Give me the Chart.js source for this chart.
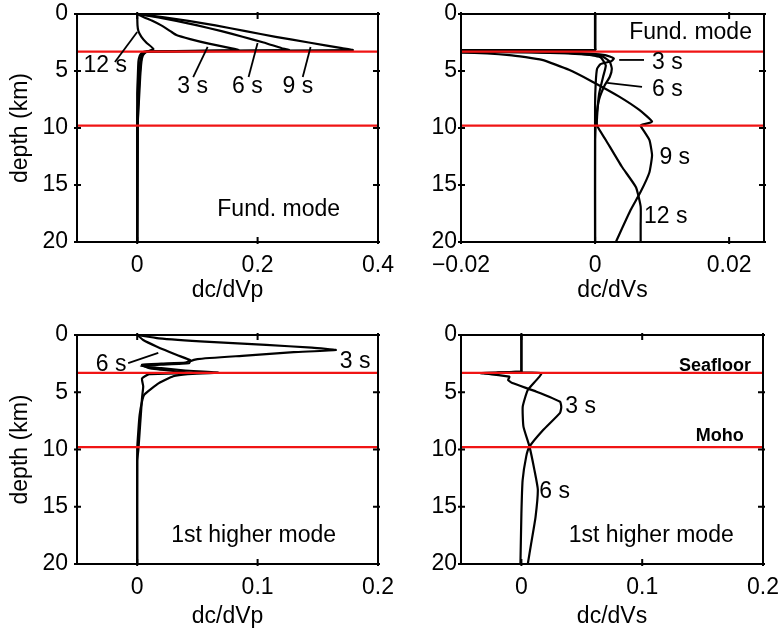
<!DOCTYPE html>
<html>
<head>
<meta charset="utf-8">
<script src="https://cdn.jsdelivr.net/npm/chart.js@4.4.1/dist/chart.umd.min.js"></script>
<style>
  html, body { margin: 0; padding: 0; background: #fff; width: 781px; height: 631px; overflow: hidden; }
  canvas { position: absolute; left: 0; top: 0; }
</style>
</head>
<body>
<canvas id="fundVp"></canvas>
<canvas id="fundVs"></canvas>
<canvas id="higherVp"></canvas>
<canvas id="higherVs"></canvas>
<script>
// ---- axes -------------------------------------------------------------
const depthTicks = [0, 5, 10, 15, 20];
const fundVpTicks = [0, 0.2, 0.4];
const fundVsTicks = [-0.02, 0, 0.02];
const higherVpTicks = [0, 0.1, 0.2];
const higherVsTicks = [0, 0.1, 0.2];
// seafloor and Moho depths (km)
const interfaceDepths = [3.3, 9.8];

// ---- fundamental mode, dc/dVp ----------------------------------------
const fVp3Depth  = [0, 0.3, 0.6, 1.0, 1.5, 1.84, 2.2, 2.6, 3.0, 3.16, 3.3, 3.45, 3.7, 4.2, 5.5, 7, 20];
const fVp3Value  = [0, 0.012, 0.025, 0.04, 0.055, 0.065, 0.088, 0.119, 0.155, 0.168, 0.012, 0.007, 0.004, 0.002, 0.001, 0, 0];
const fVp6Depth  = [0, 0.3, 0.6, 1.0, 1.5, 2.0, 2.5, 3.0, 3.16, 3.3, 3.45, 3.7, 4.2, 5.5, 7.5, 9, 20];
const fVp6Value  = [0, 0.035, 0.065, 0.1, 0.14, 0.175, 0.21, 0.24, 0.252, 0.015, 0.01, 0.007, 0.005, 0.003, 0.002, 0, 0];
const fVp9Depth  = [0, 0.3, 0.6, 1.0, 1.5, 2.0, 2.5, 3.0, 3.16, 3.3, 3.45, 3.7, 4.2, 5.5, 7.5, 9.5, 20];
const fVp9Value  = [0, 0.045, 0.085, 0.13, 0.18, 0.23, 0.285, 0.34, 0.358, 0.018, 0.012, 0.009, 0.007, 0.005, 0.003, 0.001, 0];
const fVp12Depth = [0, 1.0, 1.5, 2.0, 2.5, 3.07, 3.3, 3.45, 3.7, 4.2, 5.5, 7.5, 9.5, 20];
const fVp12Value = [0, 0.0005, 0.002, 0.007, 0.015, 0.027, 0.016, 0.011, 0.008, 0.006, 0.004, 0.002, 0.001, 0];

// ---- fundamental mode, dc/dVs ----------------------------------------
const fVs3Depth  = [0, 3.0, 3.15, 3.22, 3.3, 3.4, 3.6, 3.9, 4.15, 4.4, 4.8, 6, 8, 20];
const fVs3Value  = [0, 0, 0, -0.05, -0.012, -0.003, 0.0015, 0.0028, 0.0024, 0.0008, 0.0003, 0.0001, 0, 0];
const fVs6Depth  = [0, 3.0, 3.15, 3.22, 3.32, 3.45, 3.7, 4.2, 4.8, 5.5, 6.3, 7.5, 9, 11, 20];
const fVs6Value  = [0, 0, 0, -0.05, -0.015, -0.004, 0.001, 0.0022, 0.0025, 0.0022, 0.0014, 0.0006, 0.0002, 0, 0];
const fVs9Depth  = [0, 3.0, 3.15, 3.22, 3.4, 3.6, 4.03, 4.9, 5.94, 7.25, 8.42, 9.45, 9.74, 9.82, 11.05, 12.4, 13.9, 15.6, 17.2, 20];
const fVs9Value  = [0, 0, 0, -0.05, -0.02, -0.0128, -0.0079, -0.0039, -0.0004, 0.0036, 0.0066, 0.0085, 0.0069, 0.0068, 0.0081, 0.0085, 0.0081, 0.0068, 0.0053, 0.0031];
const fVs12Depth = [0, 3.0, 3.15, 3.22, 3.35, 3.5, 3.8, 4.5, 5.5, 7, 9, 9.8, 11.05, 13.4, 15.2, 16.9, 18.5, 20];
const fVs12Value = [0, 0, 0, -0.05, -0.01, -0.002, 0.0008, 0.0016, 0.0012, 0.0006, 0.0003, 0.0003, 0.0016, 0.004, 0.0061, 0.0068, 0.0068, 0.0068];

// ---- 1st higher mode, dc/dVp -----------------------------------------
const hVp3Depth = [0, 0.29, 0.6, 0.87, 1.1, 1.31, 1.5, 1.8, 2.1, 2.3, 2.47, 2.6, 2.7, 2.9, 3.1, 3.28, 3.42, 3.6, 4.2, 5.2, 5.8, 7, 8.3, 10, 20];
const hVp3Value = [0, 0.018, 0.06, 0.107, 0.145, 0.165, 0.13, 0.09, 0.05, 0.044, 0.043, 0.02, 0.003, 0.02, 0.04, 0.068, 0.042, 0.03, 0.018, 0.006, 0.004, 0.002, 0.001, 0, 0];
const hVp6Depth = [0, 0.44, 1.0, 1.75, 2.2, 2.4, 2.5, 2.6, 2.9, 3.2, 3.32, 3.42, 3.8, 4.5, 5.5, 7, 8.5, 10, 11, 20];
const hVp6Value = [0, 0.005, 0.016, 0.033, 0.044, 0.04, 0.02, 0.004, 0.01, 0.035, 0.045, 0.01, 0.004, 0.005, 0.004, 0.003, 0.002, 0.001, 0, 0];

// ---- 1st higher mode, dc/dVs -----------------------------------------
const hVs3Depth = [0, 3.05, 3.2, 3.32, 3.64, 3.93, 4.2, 4.95, 5.83, 6.3, 6.8, 8.3, 9.75, 10.6, 12.7, 15.6, 20];
const hVs3Value = [0, 0, 0, -0.034, -0.01, -0.011, -0.0075, 0.0125, 0.032, 0.033, 0.032, 0.018, 0.0067, 0.004, 0.001, 0, -0.0008];
const hVs6Depth = [0, 3.05, 3.2, 3.28, 3.35, 4.8, 6.26, 8.0, 9.75, 11.8, 13.5, 15.9, 18.2, 20];
const hVs6Value = [0, 0, 0, -0.02, 0.0164, 0.0053, 0.0011, 0.0017, 0.0067, 0.0108, 0.0136, 0.0117, 0.0081, 0.0053];

const FAMILY = '"Liberation Sans", Arial, Helvetica, sans-serif';
const RED = '#f01414';
const PAGE_W = 781, PAGE_H = 631;

function pairs(depths, values) {
  return depths.map((d, i) => ({ x: values[i], y: d }));
}

function fmtTick(v) {
  if (v === 0) return '0';
  return (v < 0 ? '\u2212' : '') + String(Math.abs(v));
}

// plot: [left, top, right, bottom] of the framed area; axis bands sized by yW / xH
const panels = [
  {
    id: 'fundVp', plot: [77, 14, 378, 242], yW: 77, xH: 68,
    xMin: -0.1, xMax: 0.4, xTicks: fundVpTicks, xTitle: 'dc/dVp', yTitle: true, yTickPad: 9, xTitlePad: 7.5,
    series: [[fVp3Depth, fVp3Value], [fVp6Depth, fVp6Value], [fVp9Depth, fVp9Value], [fVp12Depth, fVp12Value]],
    texts: [
      { t: '12 s', x: -0.053, y: 4.56, align: 'center' },
      { t: '3 s', x: 0.092, y: 6.4, align: 'center' },
      { t: '6 s', x: 0.183, y: 6.4, align: 'center' },
      { t: '9 s', x: 0.267, y: 6.4, align: 'center' },
      { t: 'Fund. mode', x: 0.235, y: 17.2, align: 'center' }
    ],
    leaders: [
      [-0.037, 4.21, 0, 1.58],
      [0.093, 5.53, 0.117, 2.89],
      [0.185, 5.53, 0.2, 2.54],
      [0.275, 5.53, 0.288, 2.89]
    ]
  },
  {
    id: 'fundVs', plot: [461, 14, 764, 242], yW: 71, xH: 68,
    xMin: -0.02, xMax: 0.0252, xTicks: fundVsTicks, xTitle: 'dc/dVs', yTitle: false, yTickPad: 4, xTitlePad: 7.5,
    series: [[fVs3Depth, fVs3Value], [fVs6Depth, fVs6Value], [fVs9Depth, fVs9Value], [fVs12Depth, fVs12Value]],
    texts: [
      { t: 'Fund. mode', x: 0.0234, y: 1.67, align: 'right' },
      { t: '3 s', x: 0.0085, y: 4.3, align: 'left' },
      { t: '6 s', x: 0.0085, y: 6.67, align: 'left' },
      { t: '9 s', x: 0.0096, y: 12.6, align: 'left' },
      { t: '12 s', x: 0.0073, y: 17.8, align: 'left' }
    ],
    leaders: [
      [0.0036, 4.03, 0.0073, 4.03],
      [0.0018, 6.05, 0.007, 6.4]
    ]
  },
  {
    id: 'higherVp', plot: [77, 335, 378, 564], yW: 77, xH: 67,
    xMin: -0.05, xMax: 0.2, xTicks: higherVpTicks, xTitle: 'dc/dVp', yTitle: true, yTickPad: 9, xTitlePad: 2.5,
    series: [[hVp3Depth, hVp3Value], [hVp6Depth, hVp6Value]],
    texts: [
      { t: '6 s', x: -0.0217, y: 2.62, align: 'center' },
      { t: '3 s', x: 0.181, y: 2.36, align: 'center' },
      { t: '1st higher mode', x: 0.0967, y: 17.55, align: 'center' }
    ],
    leaders: [
      [-0.0075, 2.45, 0.0175, 1.57]
    ]
  },
  {
    id: 'higherVs', plot: [461, 335, 763, 564], yW: 71, xH: 67,
    xMin: -0.05, xMax: 0.2, xTicks: higherVsTicks, xTitle: 'dc/dVs', yTitle: false, yTickPad: 4, xTitlePad: 2.5,
    series: [[hVs3Depth, hVs3Value], [hVs6Depth, hVs6Value]],
    texts: [
      { t: 'Seafloor', x: 0.19, y: 2.7, align: 'right', bold: true },
      { t: 'Moho', x: 0.184, y: 8.8, align: 'right', bold: true },
      { t: '3 s', x: 0.049, y: 6.29, align: 'center' },
      { t: '6 s', x: 0.0275, y: 13.7, align: 'center' },
      { t: '1st higher mode', x: 0.1075, y: 17.55, align: 'center' }
    ],
    leaders: []
  }
];

// Annotations, leader lines and the boxed frame with tick marks.
function decorPlugin(p) {
  return {
    id: 'decor',
    afterDatasetsDraw(chart) {
      const ctx = chart.ctx;
      const xs = chart.scales.x, ys = chart.scales.y;
      ctx.save();
      ctx.strokeStyle = '#000';
      ctx.lineWidth = 1.8;
      p.leaders.forEach(l => {
        ctx.beginPath();
        ctx.moveTo(xs.getPixelForValue(l[0]), ys.getPixelForValue(l[1]));
        ctx.lineTo(xs.getPixelForValue(l[2]), ys.getPixelForValue(l[3]));
        ctx.stroke();
      });
      ctx.fillStyle = '#000';
      ctx.textBaseline = 'middle';
      p.texts.forEach(tx => {
        ctx.font = tx.bold ? 'bold 18px ' + FAMILY : '23px ' + FAMILY;
        ctx.textAlign = tx.align;
        ctx.fillText(tx.t, xs.getPixelForValue(tx.x), ys.getPixelForValue(tx.y));
      });
      ctx.restore();
    },
    afterDraw(chart) {
      const ctx = chart.ctx;
      const a = chart.chartArea;
      const xs = chart.scales.x, ys = chart.scales.y;
      ctx.save();
      ctx.strokeStyle = '#000';
      ctx.lineWidth = 2;
      ctx.strokeRect(a.left, a.top, a.right - a.left, a.bottom - a.top);
      ctx.beginPath();
      p.xTicks.forEach(v => {
        const px = xs.getPixelForValue(v);
        ctx.moveTo(px, a.bottom + 2); ctx.lineTo(px, a.bottom - 5);
        ctx.moveTo(px, a.top - 2); ctx.lineTo(px, a.top + 5);
      });
      depthTicks.forEach(v => {
        const py = ys.getPixelForValue(v);
        ctx.moveTo(a.left - 3, py); ctx.lineTo(a.left + 4, py);
        ctx.moveTo(a.right + 2, py); ctx.lineTo(a.right - 5, py);
      });
      ctx.stroke();
      ctx.restore();
    }
  };
}

function buildPanel(p) {
  const cv = document.getElementById(p.id);
  cv.width = PAGE_W; cv.height = PAGE_H;
  cv.style.width = PAGE_W + 'px'; cv.style.height = PAGE_H + 'px';
  const [L, T, R, B] = p.plot;
  const pad = { left: L - p.yW, top: T, right: PAGE_W - R, bottom: PAGE_H - B - p.xH };

  const datasets = [];
  interfaceDepths.forEach(d => datasets.push({
    data: [{ x: p.xMin, y: d }, { x: p.xMax, y: d }],
    showLine: true, borderColor: RED, borderWidth: 2.2, pointRadius: 0, tension: 0, order: 0
  }));
  p.series.forEach(s => datasets.push({
    data: pairs(s[0], s[1]),
    showLine: true, borderColor: '#000', borderWidth: 2.2, pointRadius: 0, tension: 0.15, order: 1
  }));

  const tickFont = { family: FAMILY, size: 23 };
  const titleFont = { family: FAMILY, size: 23, lineHeight: 1 };

  new Chart(cv, {
    type: 'scatter',
    data: { datasets },
    options: {
      responsive: false,
      animation: false,
      events: [],
      layout: { padding: pad },
      plugins: { legend: { display: false }, tooltip: { enabled: false } },
      scales: {
        x: {
          type: 'linear', position: 'bottom', min: p.xMin, max: p.xMax,
          grid: { display: false, drawTicks: false },
          border: { display: false },
          ticks: { font: tickFont, color: '#000', padding: 10, maxRotation: 0, autoSkip: false, callback: v => fmtTick(v) },
          title: { display: true, text: p.xTitle, font: titleFont, color: '#000', padding: { top: 0, bottom: p.xTitlePad } },
          afterBuildTicks: s => { s.ticks = p.xTicks.map(v => ({ value: v })); },
          afterFit: s => { s.height = p.xH; s.paddingLeft = 0; s.paddingRight = 0; }
        },
        y: {
          type: 'linear', position: 'left', min: 0, max: 20, reverse: true,
          grid: { display: false, drawTicks: false },
          border: { display: false },
          ticks: { font: tickFont, color: '#000', padding: p.yTickPad, autoSkip: false, callback: v => String(v) },
          title: { display: p.yTitle, text: 'depth (km)', font: titleFont, color: '#000', padding: { top: 9.5, bottom: 0 } },
          afterBuildTicks: s => { s.ticks = depthTicks.map(v => ({ value: v })); },
          afterFit: s => { s.width = p.yW; s.paddingTop = 0; s.paddingBottom = 0; }
        }
      }
    },
    plugins: [decorPlugin(p)]
  });
}

panels.forEach(buildPanel);
</script>
</body>
</html>
